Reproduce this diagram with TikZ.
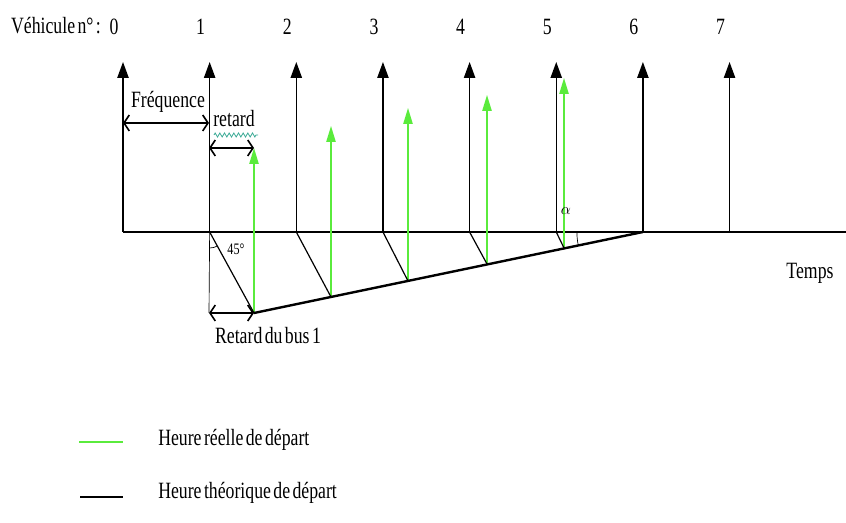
\documentclass[tikz,border=0pt]{standalone}
\usepackage{fontspec}
\setmainfont{Liberation Serif}[FakeStretch=0.76,WordSpace=0.55]
\usetikzlibrary{arrows.meta,decorations.pathmorphing}
\definecolor{vert}{RGB}{90,235,60}
\definecolor{souligne}{RGB}{60,170,150}
\tikzset{
  veh/.style   = {line width=1.1pt, -{Triangle[length=12pt,width=8.5pt]}},
  reel/.style  = {draw=vert, line width=1.1pt, -{Triangle[length=12pt,width=7pt]}},
  axe/.style   = {line width=1.5pt},
  pente/.style = {line width=1.8pt},
  diag/.style  = {line width=0.9pt},
  fin/.style   = {line width=0.5pt},
  cote/.style  = {line width=1.2pt,
                  {Straight Barb[length=4pt,width=12pt]}-{Straight Barb[length=4pt,width=12pt]}},
  txt/.style   = {font=\fontsize{17.5}{20}\selectfont, inner sep=0pt},
  ptxt/.style  = {font=\fontsize{12}{14}\selectfont, inner sep=0pt},
}

\begin{document}
\begin{tikzpicture}[x=0.75pt,y=-0.75pt]
  \useasboundingbox (0,0) rectangle (846,523);
  % theoretical departures
  \node[txt] (titre) at (56,26) {Véhicule n° :};
  \foreach \i in {0,...,7} {
    \coordinate (b\i) at ({123+86.65*\i},232);
    \coordinate (t\i) at ({123+86.65*\i},62);
    \node[txt] (n\i) at ({114+86.65*\i},27) {\i};
    \draw[veh] (b\i) -- (t\i);
  }
  \coordinate (fin) at (846,232);
  \draw[axe] (b0) -- (fin);
  % real departures
  \foreach \i/\x/\yb/\yt in {1/254/313/148, 2/331/297/126, 3/408/281/108,
                             4/487/264/95, 5/564/248/78} {
    \coordinate (g\i) at (\x,\yb);
    \coordinate (h\i) at (\x,\yt);
    \draw[reel] (g\i) -- (h\i);
    \draw[diag] (b\i) -- (g\i);
  }
  \draw[pente] (g1) -- (b6);
  \draw[fin] (b6) ++(180:66) arc[start angle=180, end angle=168.2, radius=66];
  \node[ptxt] (alpha) at (566,211) {$\alpha$};
  % delays
  \coordinate (d0) at (209,313);
  \draw[fin] (b1) -- (d0);
  \draw[fin] (b1) ++(90:16) arc[start angle=90, end angle=61, radius=16];
  \node[ptxt] (angle) at (236,249) {45°};
  \draw[cote] (d0) -- (g1);
  \node[txt] (bus) at (268,336) {Retard du bus 1};
  \coordinate (f0) at (123,123);
  \coordinate (f1) at (209,123);
  \draw[cote] (f0) -- (f1);
  \node[txt] (freq) at (168,102) {Fréquence};
  \coordinate (r0) at (209,148);
  \coordinate (r1) at (254,148);
  \draw[cote] (r0) -- (r1);
  \node[txt] (ret) at (234,119) {retard};
  \coordinate (s0) at (214,135);
  \coordinate (s1) at (258,135);
  \draw[souligne, line width=0.6pt, decorate,
        decoration={zigzag, amplitude=1.5, segment length=3.5}] (s0) -- (s1);
  \node[txt] (temps) at (810,273) {Temps};
  % legend
  \coordinate (lv0) at (79,442);
  \coordinate (lv1) at (123,442);
  \draw[vert, line width=1.5pt] (lv0) -- (lv1);
  \node[txt, anchor=west] (lreel) at (158,440) {Heure réelle de départ};
  \coordinate (ln0) at (80,497);
  \coordinate (ln1) at (123,497);
  \draw[line width=1.5pt] (ln0) -- (ln1);
  \node[txt, anchor=west] (ltheo) at (158,493) {Heure théorique de départ};
\end{tikzpicture}
\end{document}
